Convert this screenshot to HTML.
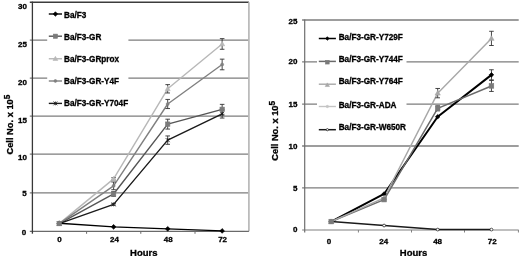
<!DOCTYPE html>
<html><head><meta charset="utf-8"><title>Cell growth charts</title>
<style>
html,body{margin:0;padding:0;background:#fff;}
body{width:520px;height:256px;overflow:hidden;}
svg{display:block;font-family:'Liberation Sans', Arial, sans-serif;font-weight:bold;}
text{stroke:#000;stroke-width:0.3px;}
</style></head>
<body>
<svg width="520" height="256" viewBox="0 0 520 256">
<rect width="520" height="256" fill="#fff"/>
<line x1="29.8" y1="192.8" x2="248.9" y2="192.8" stroke="#7c7c7c" stroke-width="1.3" />
<line x1="29.8" y1="154.2" x2="248.9" y2="154.2" stroke="#7c7c7c" stroke-width="1.3" />
<line x1="29.8" y1="116.15" x2="248.9" y2="116.15" stroke="#7c7c7c" stroke-width="1.3" />
<line x1="29.8" y1="78.15" x2="248.9" y2="78.15" stroke="#7c7c7c" stroke-width="1.3" />
<line x1="29.8" y1="40.15" x2="248.9" y2="40.15" stroke="#7c7c7c" stroke-width="1.3" />
<line x1="29.8" y1="2.2" x2="248.9" y2="2.2" stroke="#3c3c3c" stroke-width="1.4" />
<line x1="248.9" y1="2.2" x2="248.9" y2="231.3" stroke="#b8b8b8" stroke-width="1.7" />
<rect x="47.2" y="4.5" width="81.2" height="107.5" fill="#fff"/>
<line x1="29.8" y1="231.3" x2="248.9" y2="231.3" stroke="#6a6a6a" stroke-width="1.3" />
<line x1="32.4" y1="1.6" x2="32.4" y2="233.7" stroke="#383838" stroke-width="1.3" />
<line x1="86.6" y1="231.3" x2="86.6" y2="233.8" stroke="#6a6a6a" stroke-width="1" />
<line x1="140.8" y1="231.3" x2="140.8" y2="233.8" stroke="#6a6a6a" stroke-width="1" />
<line x1="195" y1="231.3" x2="195" y2="233.8" stroke="#6a6a6a" stroke-width="1" />
<text x="26.1" y="234.84" font-size="8" text-anchor="end" fill="#000" >0</text>
<text x="26.7" y="196.34" font-size="8" text-anchor="end" fill="#000" >5</text>
<text x="27" y="160.34" font-size="8" text-anchor="end" fill="#000" >10</text>
<text x="27" y="122.64" font-size="8" text-anchor="end" fill="#000" >15</text>
<text x="27" y="84.94" font-size="8" text-anchor="end" fill="#000" >20</text>
<text x="27" y="46.84" font-size="8" text-anchor="end" fill="#000" >25</text>
<text x="27" y="8.64" font-size="8" text-anchor="end" fill="#000" >30</text>
<text x="59.4" y="242.44" font-size="8" text-anchor="middle" fill="#000" >0</text>
<text x="114.45" y="242.44" font-size="8" text-anchor="middle" fill="#000" >24</text>
<text x="168.2" y="242.44" font-size="8" text-anchor="middle" fill="#000" >48</text>
<text x="222.6" y="242.44" font-size="8" text-anchor="middle" fill="#000" >72</text>
<text x="143.85" y="255.6" font-size="9.5" text-anchor="middle" fill="#000" >Hours</text>
<text transform="translate(13,124.6) rotate(-90)" font-size="9.3" text-anchor="middle">Cell No. x 10<tspan font-size="8.3" dy="-3.2">5</tspan></text>
<path d="M59.2 223.22 L113.6 226.83 L167.7 228.84 L222.15 230.92" fill="none" stroke="#000" stroke-width="1.4" stroke-linejoin="round"/>
<path d="M59.2 223.6 L113.6 193.96 L167.7 124.14 L222.15 109.31" fill="none" stroke="#555" stroke-width="1.4" stroke-linejoin="round"/>
<path d="M59.2 223.6 L113.6 178.9 L167.7 88.79 L222.15 43.95" fill="none" stroke="#b8b8b8" stroke-width="1.4" stroke-linejoin="round"/>
<path d="M59.2 223.6 L113.6 185.85 L167.7 103.99 L222.15 64.47" fill="none" stroke="#808080" stroke-width="1.4" stroke-linejoin="round"/>
<path d="M59.2 223.6 L113.6 204.35 L167.7 140.12 L222.15 113.87" fill="none" stroke="#1a1a1a" stroke-width="1.4" stroke-linejoin="round"/>
<line x1="113.6" y1="191.64" x2="113.6" y2="196.27" stroke="#333" stroke-width="0.9" />
<line x1="111.3" y1="191.64" x2="115.9" y2="191.64" stroke="#333" stroke-width="0.9" />
<line x1="111.3" y1="196.27" x2="115.9" y2="196.27" stroke="#333" stroke-width="0.9" />
<line x1="167.7" y1="119.19" x2="167.7" y2="129.09" stroke="#333" stroke-width="0.9" />
<line x1="165.4" y1="119.19" x2="170" y2="119.19" stroke="#333" stroke-width="0.9" />
<line x1="165.4" y1="129.09" x2="170" y2="129.09" stroke="#333" stroke-width="0.9" />
<line x1="222.15" y1="104.37" x2="222.15" y2="114.25" stroke="#333" stroke-width="0.9" />
<line x1="219.85" y1="104.37" x2="224.45" y2="104.37" stroke="#333" stroke-width="0.9" />
<line x1="219.85" y1="114.25" x2="224.45" y2="114.25" stroke="#333" stroke-width="0.9" />
<line x1="113.6" y1="177.75" x2="113.6" y2="180.06" stroke="#333" stroke-width="0.9" />
<line x1="111.3" y1="177.75" x2="115.9" y2="177.75" stroke="#333" stroke-width="0.9" />
<line x1="111.3" y1="180.06" x2="115.9" y2="180.06" stroke="#333" stroke-width="0.9" />
<line x1="167.7" y1="84.61" x2="167.7" y2="92.97" stroke="#333" stroke-width="0.9" />
<line x1="165.4" y1="84.61" x2="170" y2="84.61" stroke="#333" stroke-width="0.9" />
<line x1="165.4" y1="92.97" x2="170" y2="92.97" stroke="#333" stroke-width="0.9" />
<line x1="222.15" y1="38.63" x2="222.15" y2="49.27" stroke="#333" stroke-width="0.9" />
<line x1="219.85" y1="38.63" x2="224.45" y2="38.63" stroke="#333" stroke-width="0.9" />
<line x1="219.85" y1="49.27" x2="224.45" y2="49.27" stroke="#333" stroke-width="0.9" />
<line x1="113.6" y1="181.99" x2="113.6" y2="189.71" stroke="#333" stroke-width="0.9" />
<line x1="111.3" y1="181.99" x2="115.9" y2="181.99" stroke="#333" stroke-width="0.9" />
<line x1="111.3" y1="189.71" x2="115.9" y2="189.71" stroke="#333" stroke-width="0.9" />
<line x1="167.7" y1="99.43" x2="167.7" y2="108.55" stroke="#333" stroke-width="0.9" />
<line x1="165.4" y1="99.43" x2="170" y2="99.43" stroke="#333" stroke-width="0.9" />
<line x1="165.4" y1="108.55" x2="170" y2="108.55" stroke="#333" stroke-width="0.9" />
<line x1="222.15" y1="59.15" x2="222.15" y2="69.79" stroke="#333" stroke-width="0.9" />
<line x1="219.85" y1="59.15" x2="224.45" y2="59.15" stroke="#333" stroke-width="0.9" />
<line x1="219.85" y1="69.79" x2="224.45" y2="69.79" stroke="#333" stroke-width="0.9" />
<line x1="113.6" y1="203.58" x2="113.6" y2="205.12" stroke="#333" stroke-width="0.9" />
<line x1="111.3" y1="203.58" x2="115.9" y2="203.58" stroke="#333" stroke-width="0.9" />
<line x1="111.3" y1="205.12" x2="115.9" y2="205.12" stroke="#333" stroke-width="0.9" />
<line x1="167.7" y1="135.94" x2="167.7" y2="144.31" stroke="#333" stroke-width="0.9" />
<line x1="165.4" y1="135.94" x2="170" y2="135.94" stroke="#333" stroke-width="0.9" />
<line x1="165.4" y1="144.31" x2="170" y2="144.31" stroke="#333" stroke-width="0.9" />
<line x1="222.15" y1="109.69" x2="222.15" y2="118.05" stroke="#333" stroke-width="0.9" />
<line x1="219.85" y1="109.69" x2="224.45" y2="109.69" stroke="#333" stroke-width="0.9" />
<line x1="219.85" y1="118.05" x2="224.45" y2="118.05" stroke="#333" stroke-width="0.9" />
<path d="M59.2 220.81L61.6 223.22L59.2 225.62L56.8 223.22Z" fill="#000" stroke="#000" stroke-width="0.6"/>
<path d="M113.6 224.43L116 226.83L113.6 229.23L111.2 226.83Z" fill="#000" stroke="#000" stroke-width="0.6"/>
<path d="M167.7 226.44L170.1 228.84L167.7 231.24L165.3 228.84Z" fill="#000" stroke="#000" stroke-width="0.6"/>
<path d="M222.15 228.52L224.55 230.92L222.15 233.32L219.75 230.92Z" fill="#000" stroke="#000" stroke-width="0.6"/>
<path d="M59.2 221.07L61.73 225.47L56.67 225.47Z" fill="#b8b8b8" stroke="#b8b8b8" stroke-width="0.6"/>
<path d="M113.6 176.37L116.13 180.77L111.07 180.77Z" fill="#b8b8b8" stroke="#b8b8b8" stroke-width="0.6"/>
<path d="M167.7 86.26L170.23 90.66L165.17 90.66Z" fill="#b8b8b8" stroke="#b8b8b8" stroke-width="0.6"/>
<path d="M222.15 41.42L224.68 45.82L219.62 45.82Z" fill="#b8b8b8" stroke="#b8b8b8" stroke-width="0.6"/>
<circle cx="59.2" cy="223.6" r="1.5" fill="#808080" stroke="#808080" stroke-width="0.6"/>
<circle cx="113.6" cy="185.85" r="1.5" fill="#808080" stroke="#808080" stroke-width="0.6"/>
<circle cx="167.7" cy="103.99" r="1.5" fill="#808080" stroke="#808080" stroke-width="0.6"/>
<circle cx="222.15" cy="64.47" r="1.5" fill="#808080" stroke="#808080" stroke-width="0.6"/>
<path d="M57.2 221.6L61.2 225.6M57.2 225.6L61.2 221.6M59.2 221.6L59.2 225.6" stroke="#1a1a1a" stroke-width="0.8" fill="none"/>
<path d="M111.6 202.35L115.6 206.35M111.6 206.35L115.6 202.35M113.6 202.35L113.6 206.35" stroke="#1a1a1a" stroke-width="0.8" fill="none"/>
<path d="M165.7 138.12L169.7 142.12M165.7 142.12L169.7 138.12M167.7 138.12L167.7 142.12" stroke="#1a1a1a" stroke-width="0.8" fill="none"/>
<path d="M220.15 111.87L224.15 115.87M220.15 115.87L224.15 111.87M222.15 111.87L222.15 115.87" stroke="#1a1a1a" stroke-width="0.8" fill="none"/>
<rect x="57" y="221.4" width="4.4" height="4.4" fill="#7a7a7a" stroke="#7a7a7a" stroke-width="0.6"/>
<rect x="111.4" y="191.76" width="4.4" height="4.4" fill="#7a7a7a" stroke="#7a7a7a" stroke-width="0.6"/>
<rect x="165.5" y="121.94" width="4.4" height="4.4" fill="#7a7a7a" stroke="#7a7a7a" stroke-width="0.6"/>
<rect x="219.95" y="107.11" width="4.4" height="4.4" fill="#7a7a7a" stroke="#7a7a7a" stroke-width="0.6"/>
<line x1="48.8" y1="14" x2="62" y2="14" stroke="#000" stroke-width="1.4" />
<path d="M55.4 11.72L57.68 14L55.4 16.28L53.12 14Z" fill="#000" stroke="#000" stroke-width="0.6"/>
<text x="64" y="17.8" font-size="8.2" text-anchor="start" fill="#000" >Ba/F3</text>
<line x1="48.8" y1="36.2" x2="62" y2="36.2" stroke="#555" stroke-width="1.4" />
<rect x="53.31" y="34.11" width="4.18" height="4.18" fill="#7a7a7a" stroke="#7a7a7a" stroke-width="0.6"/>
<text x="64" y="40.05" font-size="8.2" text-anchor="start" fill="#000" >Ba/F3-GR</text>
<line x1="48.8" y1="58.75" x2="62" y2="58.75" stroke="#b8b8b8" stroke-width="1.4" />
<path d="M55.4 56.35L57.8 60.53L53 60.53Z" fill="#b8b8b8" stroke="#b8b8b8" stroke-width="0.6"/>
<text x="64" y="62.1" font-size="8.2" text-anchor="start" fill="#000" >Ba/F3-GRprox</text>
<line x1="48.8" y1="81" x2="62" y2="81" stroke="#808080" stroke-width="1.4" />
<circle cx="55.4" cy="81" r="1.42" fill="#808080" stroke="#808080" stroke-width="0.6"/>
<text x="64" y="84.3" font-size="8.2" text-anchor="start" fill="#000" >Ba/F3-GR-Y4F</text>
<line x1="48.8" y1="103.4" x2="62" y2="103.4" stroke="#1a1a1a" stroke-width="1.4" />
<path d="M53.5 101.5L57.3 105.3M53.5 105.3L57.3 101.5M55.4 101.5L55.4 105.3" stroke="#1a1a1a" stroke-width="0.8" fill="none"/>
<text x="64" y="106.45" font-size="8.2" text-anchor="start" fill="#000" >Ba/F3-GR-Y704F</text>
<line x1="302.1" y1="187.8" x2="518.7" y2="187.8" stroke="#7c7c7c" stroke-width="1.3" />
<line x1="302.1" y1="146" x2="518.7" y2="146" stroke="#7c7c7c" stroke-width="1.3" />
<line x1="302.1" y1="104.15" x2="518.7" y2="104.15" stroke="#7c7c7c" stroke-width="1.3" />
<line x1="302.1" y1="61.8" x2="518.7" y2="61.8" stroke="#7c7c7c" stroke-width="1.3" />
<line x1="302.1" y1="20" x2="518.7" y2="20" stroke="#7c7c7c" stroke-width="1.3" />
<rect x="317" y="28" width="89.5" height="110" fill="#fff"/>
<line x1="302.1" y1="230" x2="518.7" y2="230" stroke="#808080" stroke-width="1.2" />
<line x1="304.7" y1="19.4" x2="304.7" y2="232.4" stroke="#6e6e6e" stroke-width="1.2" />
<line x1="358.4" y1="230" x2="358.4" y2="232.5" stroke="#808080" stroke-width="1" />
<line x1="411.5" y1="230" x2="411.5" y2="232.5" stroke="#808080" stroke-width="1" />
<line x1="464.5" y1="230" x2="464.5" y2="232.5" stroke="#808080" stroke-width="1" />
<line x1="518.4" y1="230" x2="518.4" y2="232.5" stroke="#808080" stroke-width="1" />
<text x="297.4" y="232.34" font-size="8" text-anchor="end" fill="#000" >0</text>
<text x="297.4" y="190.94" font-size="8" text-anchor="end" fill="#000" >5</text>
<text x="297.4" y="148.94" font-size="8" text-anchor="end" fill="#000" >10</text>
<text x="297.4" y="107.44" font-size="8" text-anchor="end" fill="#000" >15</text>
<text x="297.4" y="64.34" font-size="8" text-anchor="end" fill="#000" >20</text>
<text x="297.4" y="23.94" font-size="8" text-anchor="end" fill="#000" >25</text>
<text x="329" y="244.04" font-size="8" text-anchor="middle" fill="#000" >0</text>
<text x="383.8" y="244.04" font-size="8" text-anchor="middle" fill="#000" >24</text>
<text x="437.6" y="244.04" font-size="8" text-anchor="middle" fill="#000" >48</text>
<text x="492.3" y="244.04" font-size="8" text-anchor="middle" fill="#000" >72</text>
<text x="413.6" y="255.6" font-size="9.5" text-anchor="middle" fill="#000" >Hours</text>
<text transform="translate(277.8,130.8) rotate(-90)" font-size="9.3" text-anchor="middle">Cell No. x 10<tspan font-size="8.3" dy="-3.2">5</tspan></text>
<path d="M331.2 221.56 L384.1 193.96 L437.7 116.71 L491.45 74.84" fill="none" stroke="#000" stroke-width="2" stroke-linejoin="round"/>
<path d="M331.2 221.56 L384.1 199.62 L437.7 108.34 L491.45 85.94" fill="none" stroke="#6a6a6a" stroke-width="1.5" stroke-linejoin="round"/>
<path d="M331.2 221.56 L384.1 197.93 L437.7 93.14 L491.45 38.39" fill="none" stroke="#a8a8a8" stroke-width="1.4" stroke-linejoin="round"/>
<path d="M331.2 221.56 L384.1 225.53 L437.7 229.58 L491.45 229.58" fill="none" stroke="#1a1a1a" stroke-width="1.5" stroke-linejoin="round"/>
<line x1="491.45" y1="69.76" x2="491.45" y2="79.93" stroke="#333" stroke-width="0.9" />
<line x1="489.15" y1="69.76" x2="493.75" y2="69.76" stroke="#333" stroke-width="0.9" />
<line x1="489.15" y1="79.93" x2="493.75" y2="79.93" stroke="#333" stroke-width="0.9" />
<line x1="437.7" y1="105.82" x2="437.7" y2="110.85" stroke="#333" stroke-width="0.9" />
<line x1="435.4" y1="105.82" x2="440" y2="105.82" stroke="#333" stroke-width="0.9" />
<line x1="435.4" y1="110.85" x2="440" y2="110.85" stroke="#333" stroke-width="0.9" />
<line x1="491.45" y1="80.43" x2="491.45" y2="91.45" stroke="#333" stroke-width="0.9" />
<line x1="489.15" y1="80.43" x2="493.75" y2="80.43" stroke="#333" stroke-width="0.9" />
<line x1="489.15" y1="91.45" x2="493.75" y2="91.45" stroke="#333" stroke-width="0.9" />
<line x1="437.7" y1="88.48" x2="437.7" y2="97.8" stroke="#333" stroke-width="0.9" />
<line x1="435.4" y1="88.48" x2="440" y2="88.48" stroke="#333" stroke-width="0.9" />
<line x1="435.4" y1="97.8" x2="440" y2="97.8" stroke="#333" stroke-width="0.9" />
<line x1="491.45" y1="31.29" x2="491.45" y2="45.5" stroke="#333" stroke-width="0.9" />
<line x1="489.15" y1="31.29" x2="493.75" y2="31.29" stroke="#333" stroke-width="0.9" />
<line x1="489.15" y1="45.5" x2="493.75" y2="45.5" stroke="#333" stroke-width="0.9" />
<circle cx="331.2" cy="221.56" r="1.4" fill="#fff" stroke="#1a1a1a" stroke-width="0.7"/>
<circle cx="384.1" cy="225.53" r="1.4" fill="#fff" stroke="#1a1a1a" stroke-width="0.7"/>
<circle cx="437.7" cy="229.58" r="1.4" fill="#fff" stroke="#1a1a1a" stroke-width="0.7"/>
<circle cx="491.45" cy="229.58" r="1.4" fill="#fff" stroke="#1a1a1a" stroke-width="0.7"/>
<path d="M331.2 219.26L333.5 221.56L331.2 223.86L328.9 221.56Z" fill="#000" stroke="#000" stroke-width="0.6"/>
<path d="M384.1 191.66L386.4 193.96L384.1 196.26L381.8 193.96Z" fill="#000" stroke="#000" stroke-width="0.6"/>
<path d="M437.7 114.41L440 116.71L437.7 119.01L435.4 116.71Z" fill="#000" stroke="#000" stroke-width="0.6"/>
<path d="M491.45 72.54L493.75 74.84L491.45 77.14L489.15 74.84Z" fill="#000" stroke="#000" stroke-width="0.6"/>
<path d="M331.2 218.91L333.84 223.52L328.56 223.52Z" fill="#a8a8a8" stroke="#a8a8a8" stroke-width="0.6"/>
<path d="M384.1 195.28L386.75 199.88L381.46 199.88Z" fill="#a8a8a8" stroke="#a8a8a8" stroke-width="0.6"/>
<path d="M437.7 90.49L440.34 95.09L435.06 95.09Z" fill="#a8a8a8" stroke="#a8a8a8" stroke-width="0.6"/>
<path d="M491.45 35.75L494.09 40.35L488.81 40.35Z" fill="#a8a8a8" stroke="#a8a8a8" stroke-width="0.6"/>
<rect x="328.9" y="219.26" width="4.6" height="4.6" fill="#7a7a7a" stroke="#7a7a7a" stroke-width="0.6"/>
<rect x="381.8" y="197.32" width="4.6" height="4.6" fill="#7a7a7a" stroke="#7a7a7a" stroke-width="0.6"/>
<rect x="435.4" y="106.04" width="4.6" height="4.6" fill="#7a7a7a" stroke="#7a7a7a" stroke-width="0.6"/>
<rect x="489.15" y="83.64" width="4.6" height="4.6" fill="#7a7a7a" stroke="#7a7a7a" stroke-width="0.6"/>
<line x1="318.8" y1="38.5" x2="335.9" y2="38.5" stroke="#000" stroke-width="1.5" />
<path d="M327.35 36.66L329.19 38.5L327.35 40.34L325.51 38.5Z" fill="#000" stroke="#000" stroke-width="0.6"/>
<text x="338.7" y="40.15" font-size="8.2" text-anchor="start" fill="#000" >Ba/F3-GR-Y729F</text>
<line x1="318.8" y1="61.4" x2="335.9" y2="61.4" stroke="#6a6a6a" stroke-width="1.5" />
<rect x="325.51" y="60.36" width="3.68" height="3.68" fill="#7a7a7a" stroke="#7a7a7a" stroke-width="0.6"/>
<text x="338.7" y="62.1" font-size="8.2" text-anchor="start" fill="#000" >Ba/F3-GR-Y744F</text>
<line x1="318.8" y1="84.2" x2="335.9" y2="84.2" stroke="#a8a8a8" stroke-width="1.4" />
<path d="M327.35 82.88L329.47 86.56L325.23 86.56Z" fill="#a8a8a8" stroke="#a8a8a8" stroke-width="0.6"/>
<text x="338.7" y="84.2" font-size="8.2" text-anchor="start" fill="#000" >Ba/F3-GR-Y764F</text>
<line x1="318.8" y1="106.5" x2="335.9" y2="106.5" stroke="#c4c4c4" stroke-width="1.4" />
<circle cx="327.35" cy="106.5" r="1.2" fill="#c4c4c4" stroke="#c4c4c4" stroke-width="0.6"/>
<text x="338.7" y="108.3" font-size="8.2" text-anchor="start" fill="#000" >Ba/F3-GR-ADA</text>
<line x1="318.8" y1="129.7" x2="335.9" y2="129.7" stroke="#1a1a1a" stroke-width="1.5" />
<circle cx="327.35" cy="129.7" r="1.12" fill="#fff" stroke="#1a1a1a" stroke-width="0.7"/>
<text x="338.7" y="130.3" font-size="8.2" text-anchor="start" fill="#000" >Ba/F3-GR-W650R</text>
</svg>
</body></html>
